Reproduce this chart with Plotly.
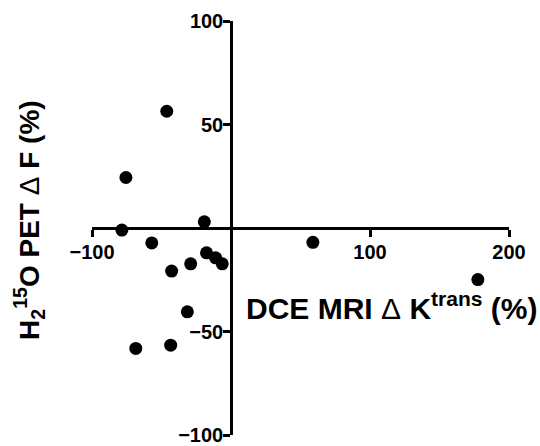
import plotly.graph_objects as go

# Percent change per lesion: DCE MRI Ktrans vs H2(15)O PET blood flow
ktrans_change = [-46.2, -75.6, -78.5, -57.0, -19.2, -17.6, -11.1, -6.3,
                 -29.0, -42.7, -31.4, -43.4, -68.5, 58.9, 177.6]
flow_change = [56.4, 24.4, -1.0, -7.2, 3.0, -12.0, -14.4, -17.3,
               -17.3, -20.8, -40.5, -56.6, -58.2, -6.9, -24.9]

x_ticks = [-100, 100, 200]
y_ticks = [-100, -50, 50, 100]
x_range = [-100, 200]
y_range = [-100, 100]

FONT = "Arial, Liberation Sans, sans-serif"

fig = go.Figure(
    go.Scatter(
        x=ktrans_change,
        y=flow_change,
        mode="markers",
        marker=dict(color="black", size=13, line=dict(width=0)),
        showlegend=False,
        cliponaxis=False,
    )
)

axis_common = dict(
    showgrid=False,
    zeroline=False,
    showline=True,
    linecolor="black",
    linewidth=2.5,
    ticks="outside",
    ticklen=7,
    tickwidth=2.5,
    tickcolor="black",
    ticklabeloverflow="allow",
    automargin=False,
    tickfont=dict(family=FONT, size=20, color="black", weight="bold"),
)

# Axes cross at the origin: x axis sits at y=0, y axis at x=0
y_zero_frac = (0 - y_range[0]) / (y_range[1] - y_range[0])
x_zero_frac = (0 - x_range[0]) / (x_range[1] - x_range[0])

W, H = 540, 446
L, R, T, B = 92, 31, 21, 11
pw, ph = W - L - R, H - T - B

fig.update_layout(
    width=W,
    height=H,
    margin=dict(l=L, r=R, t=T, b=B, autoexpand=False),
    paper_bgcolor="white",
    plot_bgcolor="white",
    xaxis=dict(
        range=x_range,
        tickvals=x_ticks,
        anchor="free",
        position=y_zero_frac,
        ticklabelstandoff=-2,
        **axis_common,
    ),
    yaxis=dict(
        range=y_range,
        tickvals=y_ticks,
        anchor="free",
        position=x_zero_frac,
        ticklabelstandoff=-4,
        **axis_common,
    ),
    annotations=[
        dict(
            text="DCE MRI <span style='font-weight:normal'>Δ</span> K<sup>trans</sup> (%)",
            xref="paper", yref="paper",
            x=(244 - L) / pw, y=(H - B - 306) / ph,
            xanchor="left", yanchor="middle",
            showarrow=False,
            font=dict(family=FONT, size=30, color="black", weight="bold"),
        ),
        dict(
            text="H<sub>2</sub><sup>15</sup>O PET <span style='font-weight:normal'>Δ</span> F (%)",
            xref="paper", yref="paper",
            x=(29 - L) / pw, y=(H - B - 220) / ph,
            xanchor="center", yanchor="middle",
            textangle=-90,
            showarrow=False,
            font=dict(family=FONT, size=28, color="black", weight="bold"),
        ),
    ],
)

fig.write_html("out.html")
